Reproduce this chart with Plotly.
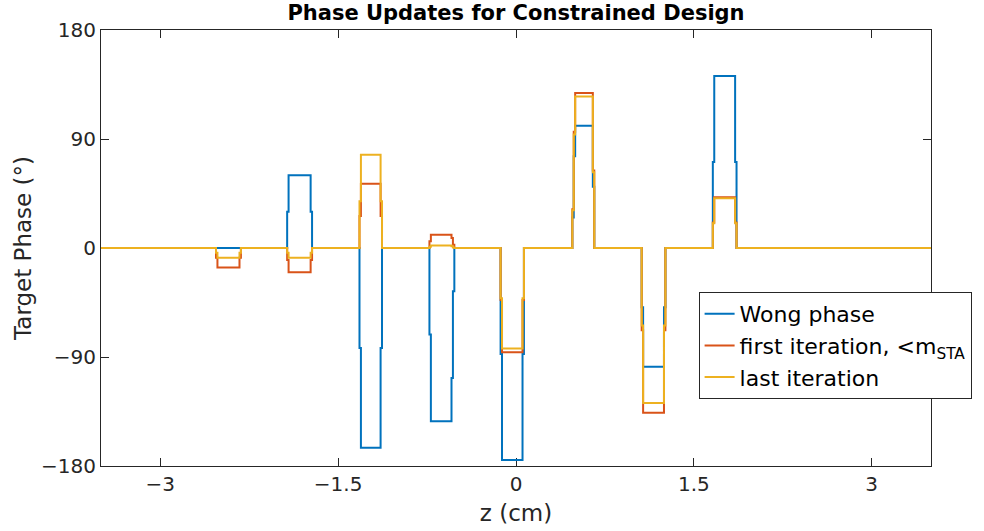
import plotly.graph_objects as go

# ---- data ----
z_min, z_max = -3.5, 3.5
pulse_start = [-2.53, -1.93, -1.32, -0.73, -0.13, 0.475, 1.06, 1.66]
pulse_end = [-2.32, -1.72, -1.13, -0.52, 0.067, 0.66, 1.26, 1.86]
# fractional transition samples on rising (left) and falling (right) edges
left_frac = [[0.5], [0.5], [0.5], [0.5], [0.5], [0.25, 0.75], [0.5], [0.5]]
right_frac = [[0.5], [0.5], [0.5], [0.75, 0.25], [0.5], [0.5], [0.5], [0.5]]
edge_step = 0.012

wong_phase = [0, 60, -165, -143, -175, 101, -98, 142]
first_iter = [-16, -20, 53, 11, -86, 128, -136, 42]
last_iter = [-8, -8, 77, 2, -83, 125, -128, 41]

series_names = ["Wong phase", "first iteration, &lt;m<sub>STA</sub>", "last iteration"]
series_values = [wong_phase, first_iter, last_iter]
colors = ["#0072BD", "#D95319", "#EDB120"]

x_ticks = [-3, -1.5, 0, 1.5, 3]
x_ticktext = ["\u22123", "\u22121.5", "0", "1.5", "3"]
y_ticks = [-180, -90, 0, 90, 180]
y_ticktext = ["\u2212180", "\u221290", "0", "90", "180"]


def build_steps(values):
    xs, ys = [z_min], [0.0]
    for s, e, v, lf, rf in zip(pulse_start, pulse_end, values, left_frac, right_frac):
        for k, f in enumerate(lf):
            xs.append(s + k * edge_step)
            ys.append(f * v)
        xs.append(s + len(lf) * edge_step)
        ys.append(v)
        n = len(rf)
        for k, f in enumerate(rf):
            xs.append(e - (n - k) * edge_step)
            ys.append(f * v)
        xs.append(e)
        ys.append(0.0)
    xs.append(z_max)
    ys.append(0.0)
    return xs, ys


fig = go.Figure()
for name, vals, col in zip(series_names, series_values, colors):
    xs, ys = build_steps(vals)
    fig.add_trace(go.Scatter(x=xs, y=ys, mode="lines", name=name,
                             line=dict(color=col, width=2, shape="hv")))

axis_color = "#262626"
tick_font = dict(family="DejaVu Sans, Open Sans", size=20, color=axis_color)
label_font = dict(family="DejaVu Sans, Open Sans", size=23, color=axis_color)

fig.update_layout(
    width=984, height=531,
    margin=dict(l=101, r=53, t=30, b=65),
    paper_bgcolor="white", plot_bgcolor="white",
    title=dict(text="<b>Phase Updates for Constrained Design</b>", x=0.5, xref="paper",
               y=1 - 13 / 531, yanchor="middle",
               font=dict(family="DejaVu Sans, Open Sans", size=21, color="black")),
    showlegend=True,
    legend=dict(x=0.72, y=0.399, xanchor="left", yanchor="top",
                bgcolor="white", bordercolor=axis_color, borderwidth=1,
                font=dict(family="DejaVu Sans, Open Sans", size=22, color="black"),
                tracegroupgap=0, itemwidth=30),
)
fig.update_xaxes(range=[z_min, z_max], tickvals=x_ticks, ticktext=x_ticktext,
                 ticks="inside", ticklen=8, tickcolor=axis_color, showline=True,
                 linecolor=axis_color, linewidth=1, mirror="ticks", showgrid=False,
                 zeroline=False, tickfont=tick_font, layer="below traces",
                 automargin=False,
                 title=dict(text="z (cm)", font=label_font, standoff=9))
fig.update_yaxes(range=[-180, 180], tickvals=y_ticks, ticktext=y_ticktext,
                 ticks="inside", ticklen=8, tickcolor=axis_color, showline=True,
                 linecolor=axis_color, linewidth=1, mirror="ticks", showgrid=False,
                 zeroline=False, tickfont=tick_font, layer="below traces",
                 automargin=False,
                 title=dict(text="Target Phase (°)", font=label_font, standoff=3))

fig.write_html("out.html")
